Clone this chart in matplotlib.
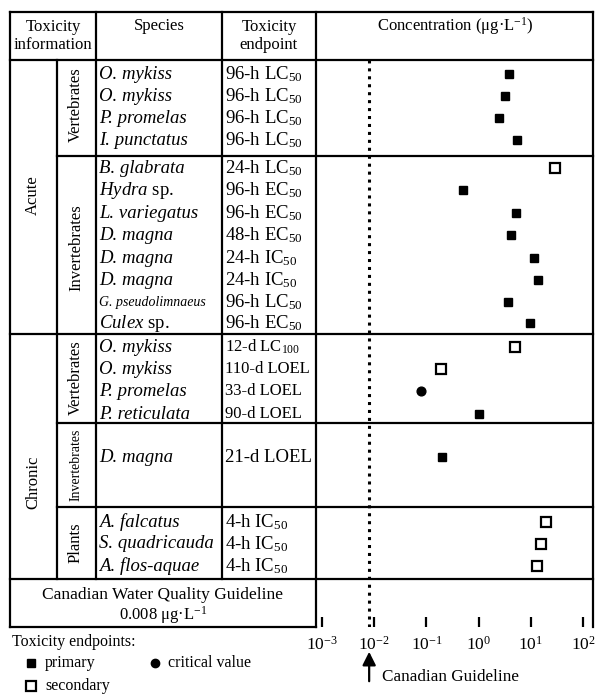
import matplotlib.pyplot as plt
import numpy as np

plt.rcParams['font.family'] = 'Liberation Serif'
plt.rcParams['mathtext.fontset'] = 'custom'
plt.rcParams['mathtext.rm'] = 'Liberation Serif'
plt.rcParams['mathtext.it'] = 'Liberation Serif:italic'
plt.rcParams['mathtext.bf'] = 'Liberation Serif:bold'

# data
species = ["O. mykiss", "O. mykiss", "P. promelas", "I. punctatus",
           "B. glabrata", r"$\mathit{Hydra}$ sp.", "L. variegatus", "D. magna",
           "D. magna", "D. magna", "G. pseudolimnaeus", r"$\mathit{Culex}$ sp.",
           "O. mykiss", "O. mykiss", "P. promelas", "P. reticulata",
           "D. magna",
           "A. falcatus", "S. quadricauda", "A. flos-aquae"]
endpoints = ["96-h LC$_{50}$", "96-h LC$_{50}$", "96-h LC$_{50}$", "96-h LC$_{50}$",
             "24-h LC$_{50}$", "96-h EC$_{50}$", "96-h EC$_{50}$", "48-h EC$_{50}$",
             "24-h IC$_{50}$", "24-h IC$_{50}$", "96-h LC$_{50}$", "96-h EC$_{50}$",
             "12-d LC$_{100}$", "110-d LOEL", "33-d LOEL", "90-d LOEL",
             "21-d LOEL",
             "4-h IC$_{50}$", "4-h IC$_{50}$", "4-h IC$_{50}$"]
values = [3.8, 3.2, 2.5, 5.5,
          29, 0.5, 5.3, 4.2, 11.5, 13.8, 3.6, 9.6,
          5.0, 0.19, 0.08, 1.0,
          0.2,
          19.5, 15.5, 13.0]
kinds = ["p", "p", "p", "p",
         "s", "p", "p", "p", "p", "p", "p", "p",
         "s", "s", "c", "p",
         "p",
         "s", "s", "s"]
guideline = 0.008
tick_vals = [1e-3, 1e-2, 1e-1, 1e0, 1e1, 1e2]

# layout (pixel rows)
row_y = [74, 96, 118, 140, 168, 190, 213, 235, 258, 280, 302, 323,
         347, 369, 391, 414, 457, 522, 544, 566]

W, H = 599, 694
fig = plt.figure(figsize=(W / 100, H / 100), dpi=100)
ax0 = fig.add_axes([0, 0, 1, 1])
ax0.set_xlim(0, W)
ax0.set_ylim(H, 0)
ax0.axis('off')

lw = 1.6
def hl(y, x0, x1):
    ax0.plot([x0, x1], [y, y], color='black', lw=lw, solid_capstyle='projecting')
def vl(x, y0, y1):
    ax0.plot([x, x], [y0, y1], color='black', lw=lw, solid_capstyle='projecting')

hl(12, 10, 593)
hl(60, 10, 593)
hl(156, 57, 593)
hl(334, 10, 593)
hl(423, 57, 593)
hl(507, 57, 593)
hl(579, 10, 593)
hl(627, 10, 316)
vl(10, 12, 627)
vl(57, 60, 579)
vl(96, 12, 579)
vl(222, 12, 579)
vl(316, 12, 627)
vl(593, 12, 627)

fs = 13.5
# headers
ax0.text(53, 36, "Toxicity\ninformation", ha='center', va='center', fontsize=12, linespacing=1.15)
ax0.text(159, 26, "Species", ha='center', va='center', fontsize=12)
ax0.text(269, 36, "Toxicity\nendpoint", ha='center', va='center', fontsize=12, linespacing=1.15)
ax0.text(455, 26, "Concentration (μg·L$^{-1}$)", ha='center', va='center', fontsize=12)

# group labels
ax0.text(33, 195, "Acute", rotation=90, ha='center', va='center', fontsize=12)
ax0.text(33, 482, "Chronic", rotation=90, ha='center', va='center', fontsize=12)
ax0.text(76, 105, "Vertebrates", rotation=90, ha='center', va='center', fontsize=12)
ax0.text(76, 248, "Invertebrates", rotation=90, ha='center', va='center', fontsize=12)
ax0.text(76, 378, "Vertebrates", rotation=90, ha='center', va='center', fontsize=12)
ax0.text(76, 465, "Invertebrates", rotation=90, ha='center', va='center', fontsize=10)
ax0.text(76, 543, "Plants", rotation=90, ha='center', va='center', fontsize=12)

for s, e, y in zip(species, endpoints, row_y):
    if s.startswith("$"):
        ax0.text(99, y, s, ha='left', va='center', fontsize=fs)
    elif s == "G. pseudolimnaeus":
        ax0.text(99, y, s, ha='left', va='center', fontsize=10, style='italic')
    else:
        ax0.text(99, y, s, ha='left', va='center', fontsize=fs, style='italic')
    efs = 12 if ("d " in e and "21" not in e) else fs
    ax0.text(225, y, e, ha='left', va='center', fontsize=efs)

ax0.text(163, 595, "Canadian Water Quality Guideline", ha='center', va='center', fontsize=12.5)
ax0.text(163, 615, "0.008 μg·L$^{-1}$", ha='center', va='center', fontsize=12)

# legend
ax0.text(12, 642, "Toxicity endpoints:", ha='left', va='center', fontsize=11.5)
ax0.plot(31, 663, 's', ms=5.8, color='black')
ax0.text(45, 663, "primary", ha='left', va='center', fontsize=11.5)
ax0.plot(155, 663, 'o', ms=6, color='black')
ax0.text(168, 663, "critical value", ha='left', va='center', fontsize=11.5)
ax0.plot(31, 686, 's', ms=6.5, mfc='white', mec='black', mew=1.6)
ax0.text(45, 686, "secondary", ha='left', va='center', fontsize=11.5)

# concentration axis
ax = fig.add_axes([316 / W, 1 - 627 / H, 277 / W, (627 - 60) / H])
ax.patch.set_alpha(0)
ax.set_xscale('log')
ax.set_xlim(10 ** -3.115, 10 ** 2.19)
ax.set_ylim(627, 60)
for sp in ax.spines.values():
    sp.set_visible(False)
ax.set_yticks([])
ax.set_xticks(tick_vals)
ax.xaxis.set_minor_locator(plt.NullLocator())
ax.tick_params(axis='x', direction='in', length=7.5, width=1.6, labelsize=12.5, pad=6)

ax.axvline(guideline, color='black', lw=2.2, linestyle=(0, (1, 1.6)))

for v, y, k in zip(values, row_y, kinds):
    if k == "p":
        ax.plot(v, y, 's', ms=6, color='black')
    elif k == "s":
        ax.plot(v, y, 's', ms=6.8, mfc='white', mec='black', mew=1.6)
    else:
        ax.plot(v, y, 'o', ms=6.3, color='black')

ax.annotate("", xy=(guideline, 649), xytext=(guideline, 684),
            xycoords=('data', 'data'), annotation_clip=False,
            arrowprops=dict(arrowstyle='-|>', color='black', lw=1.6, mutation_scale=20))
ax.text(10 ** -1.85, 677, "Canadian Guideline", ha='left', va='center', fontsize=12.3, clip_on=False)

fig.savefig("out.png", dpi=100)
